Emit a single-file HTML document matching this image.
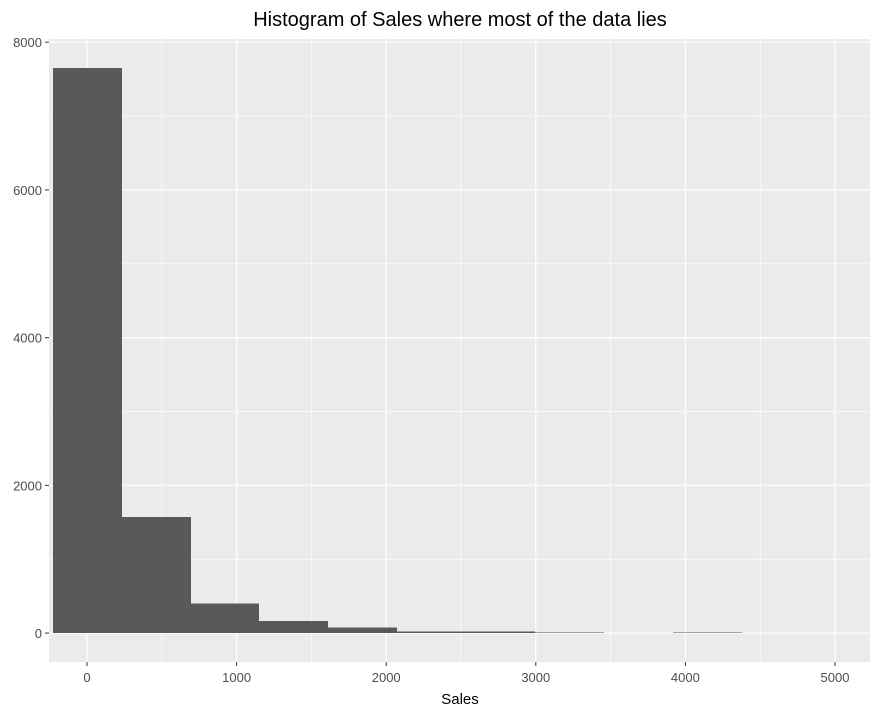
<!DOCTYPE html>
<html><head><meta charset="utf-8"><style>
body{margin:0;background:#fff;font-family:"Liberation Sans",Arial,sans-serif}
</style></head><body>
<svg id="chart" width="880" height="717" xmlns="http://www.w3.org/2000/svg">
<text x="460" y="26" text-anchor="middle" font-size="20" fill="#000">Histogram of Sales where most of the data lies</text>
<rect x="49" y="39" width="821" height="623" fill="#ebebeb"/>
<g id="grid"></g><g id="bars" shape-rendering="crispEdges"></g><g id="axes"></g>
<text x="460" y="704" text-anchor="middle" font-size="15" fill="#000">Sales</text>
</svg>
<script>
const binStarts=[-230,231,692,1153,1614,2075,2536,2997,3458,3919];
const binWidth=461;
const counts=[7650,1570,400,160,75,20,20,8,0,8];
const xTicks=[0,1000,2000,3000,4000,5000];
const yTicks=[0,2000,4000,6000,8000];
const X0=49,X1=870,Y0=662,Y1=39,xmin=-254,xmax=5234,ymin=-392,ymax=8043;
const sx=v=>X0+(v-xmin)/(xmax-xmin)*(X1-X0);
const sy=v=>Y0-(v-ymin)/(ymax-ymin)*(Y0-Y1);
const NS="http://www.w3.org/2000/svg";
function mk(t,a,p){const e=document.createElementNS(NS,t);for(const k in a)e.setAttribute(k,a[k]);p.appendChild(e);return e;}
const g=document.getElementById('grid'),b=document.getElementById('bars'),ax=document.getElementById('axes');
for(let i=0;i<xTicks.length;i++){const v=xTicks[i];
 const m=mk('line',{x1:sx(v+500),x2:sx(v+500),y1:Y1,y2:Y0,stroke:'#fff','stroke-width':0.6},g);
 
 const l=mk('line',{x1:sx(v),x2:sx(v),y1:Y1,y2:Y0,stroke:'#fff','stroke-width':1.2},g);
 
 const tk=mk('line',{x1:sx(v),x2:sx(v),y1:Y0,y2:Y0+4,stroke:'#333'},ax);
 
 const t=mk('text',{x:sx(v),y:Y0+20,'text-anchor':'middle','font-size':13,fill:'#4d4d4d'},ax);t.textContent=v;
 }
mk('line',{x1:sx(-500),x2:sx(-500),y1:Y1,y2:Y0,stroke:'#fff','stroke-width':0.6},g);
for(let i=0;i<yTicks.length;i++){const v=yTicks[i];
 if(v+1000<ymax){const m=mk('line',{x1:X0,x2:X1,y1:sy(v+1000),y2:sy(v+1000),stroke:'#fff','stroke-width':0.6},g);
 }
 const l=mk('line',{x1:X0,x2:X1,y1:sy(v),y2:sy(v),stroke:'#fff','stroke-width':1.2},g);
 
 const tk=mk('line',{x1:X0-4,x2:X0,y1:sy(v),y2:sy(v),stroke:'#333'},ax);
 
 const t=mk('text',{x:X0-7,y:sy(v)+5,'text-anchor':'end','font-size':13,fill:'#4d4d4d'},ax);t.textContent=v;
 }
for(let i=0;i<counts.length;i++){
 const x=Math.round(sx(binStarts[i])),w=Math.round(sx(binStarts[i]+binWidth))-x,y=sy(counts[i]),h=sy(0)-y;
 const r=mk('rect',{x:x,y:y,width:w,height:Math.max(h,0),fill:'#595959'},b);
 }
</script>
</body></html>
